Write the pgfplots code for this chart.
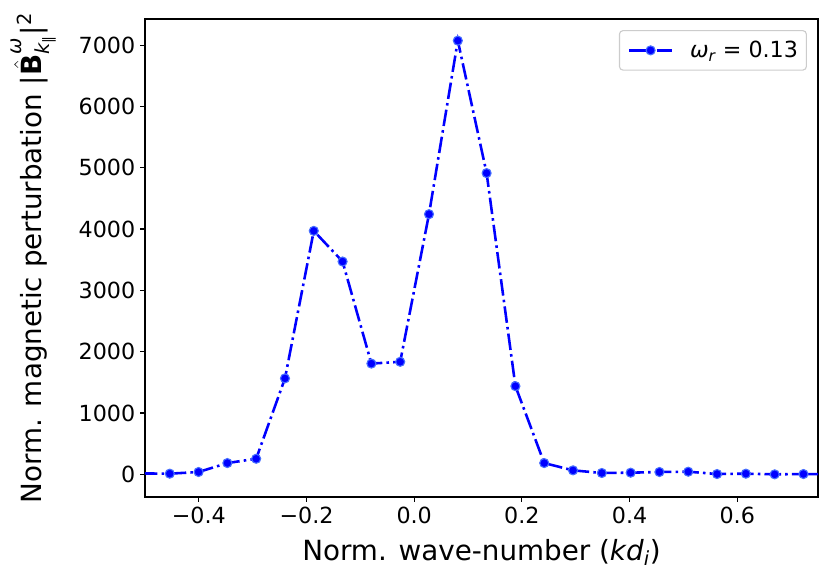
\documentclass[border=0pt]{standalone}
\usepackage{amsmath}
\usepackage{fontspec}
\setmainfont{DejaVu Sans}
\usepackage{pgfplots}
\pgfplotsset{compat=1.18}
\definecolor{mkedge}{RGB}{70,110,255}
\definecolor{lgedge}{RGB}{204,204,204}
\begin{document}
\begin{tikzpicture}
\begin{axis}[
  scale only axis,
  width=484.6bp, height=344.2bp,
  xmin=-0.5, xmax=0.75,
  ymin=-370, ymax=7425,
  axis line style={black, line width=0.8bp},
  tick style={black, line width=0.8bp},
  major tick length=3.5bp,
  tick align=outside,
  tick pos=left,
  xtick={-0.4,-0.2,0,0.2,0.4,0.6},
  xticklabels={−0.4,−0.2,0.0,0.2,0.4,0.6},
  ytick={0,1000,2000,3000,4000,5000,6000,7000},
  yticklabels={0,1000,2000,3000,4000,5000,6000,7000},
  ticklabel style={font=\fontsize{16bp}{19bp}\selectfont},
  every axis x label/.style={at={([yshift=-46bp]axis description cs:0.5,0)}, anchor=base},
  every axis y label/.style={at={([xshift=-74.2bp]axis description cs:0,0.5)}, rotate=90, anchor=base},
  label style={font=\fontsize{20bp}{24bp}\selectfont},
  xlabel={Norm. wave-number (\textit{kd}$_{\textit{i}}$)},
  ylabel={Norm. magnetic perturbation \textup{|}$\hat{\textbf{B}}^{\textit{ω}}_{\textit{k}_{\textup{∥}}}$\textup{|}$^{\textup{2}}$},
  legend style={at={(1,1)}, anchor=north east, xshift=-8bp, yshift=-8bp,
    draw=lgedge, line width=0.8bp, rounded corners=2.5bp,
    font=\fontsize{16bp}{19bp}\selectfont, inner xsep=6bp, inner ysep=7.5bp,
    nodes={inner sep=0bp},
    /tikz/every odd column/.append style={column sep=12bp},
    cells={anchor=west}},
  legend image code/.code={\draw[mark repeat=2,mark phase=2,#1] plot coordinates {(0bp,0bp) (15.5bp,0bp) (31bp,0bp)};},
  clip=true,
]
\addplot[blue, line width=1.85bp, dash pattern=on 11.9bp off 3bp on 1.85bp off 3bp,
  mark=*, mark size=3.25bp, mark options={solid, fill=blue, draw=mkedge, line width=0.8bp}]
coordinates {
(-0.454,11) (-0.4005,38) (-0.347,184) (-0.2935,254) (-0.240,1565) (-0.1865,3970)
(-0.133,3470) (-0.0795,1806) (-0.026,1835) (0.0275,4242) (0.081,7072) (0.1345,4912)
(0.188,1438) (0.2415,184) (0.295,65) (0.3485,22) (0.402,27) (0.4555,38) (0.509,43)
(0.5625,5) (0.616,11) (0.6695,0) (0.723,5)
};
\addlegendentry{\textit{ω}$_{\textit{r}}$ = 0.13}
\addplot[blue, line width=1.85bp, dash pattern=on 11.9bp off 3bp on 1.85bp off 3bp, forget plot]
coordinates {(-0.5075,15) (-0.454,11)};
\addplot[blue, line width=1.85bp, dash pattern=on 11.9bp off 3bp on 1.85bp off 3bp, forget plot]
coordinates {(0.723,5) (0.7765,0)};
\coordinate (sw) at (rel axis cs:0,0);
\coordinate (ne) at (rel axis cs:1,1);
\end{axis}
\pgfresetboundingbox
\path[use as bounding box] ([shift={(-104.4bp,-61.2bp)}]sw) rectangle ([shift={(8.64bp,13.68bp)}]ne);
\end{tikzpicture}
\end{document}
